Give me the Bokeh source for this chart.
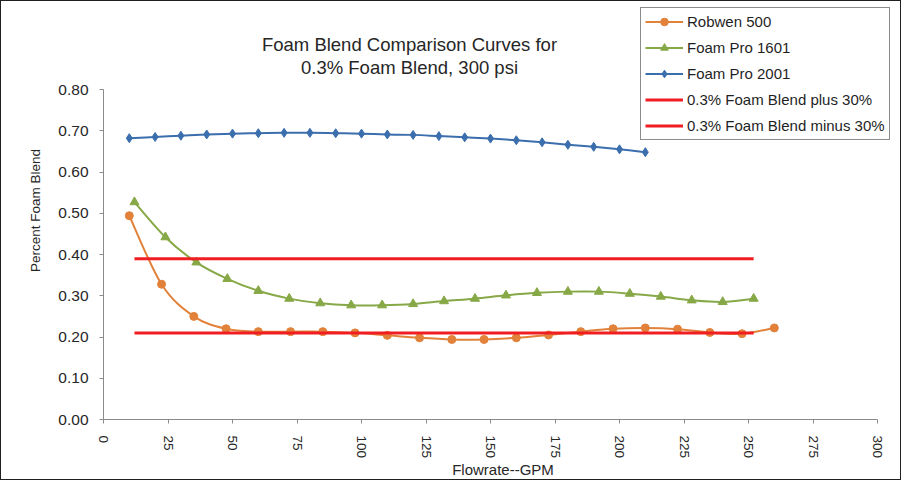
import numpy as np
from bokeh.plotting import figure
from bokeh.models import (ColumnDataSource, Range1d, FixedTicker, NumeralTickFormatter,
                          Legend, LegendItem, Label)
from bokeh.embed import file_html
from bokeh.resources import INLINE

# ---------------- data ----------------
robwen_x = [10, 22.5, 35, 47.5, 60, 72.5, 85, 97.5, 110, 122.5, 135, 147.5, 160,
            172.5, 185, 197.5, 210, 222.5, 235, 247.5, 260]
robwen_y = [0.494, 0.328, 0.250, 0.220, 0.213, 0.213, 0.213, 0.210, 0.204, 0.198, 0.194,
            0.194, 0.198, 0.205, 0.213, 0.220, 0.222, 0.219, 0.211, 0.208, 0.222]

fp1601_x = [12, 24, 36, 48, 60, 72, 84, 96, 108, 120, 132, 144, 156, 168, 180, 192,
            204, 216, 228, 240, 252]
fp1601_y = [0.527, 0.442, 0.381, 0.341, 0.312, 0.293, 0.282, 0.277, 0.277, 0.280, 0.287,
            0.293, 0.301, 0.307, 0.310, 0.310, 0.305, 0.298, 0.289, 0.285, 0.293]

fp2001_x = [10, 20, 30, 40, 50, 60, 70, 80, 90, 100, 110, 120, 130, 140, 150, 160,
            170, 180, 190, 200, 210]
fp2001_y = [0.682, 0.685, 0.688, 0.691, 0.693, 0.694, 0.695, 0.695, 0.694, 0.693, 0.691,
            0.690, 0.687, 0.684, 0.681, 0.677, 0.672, 0.666, 0.661, 0.655, 0.648]

band_x = [12, 252]
plus30_y = [0.39, 0.39]
minus30_y = [0.21, 0.21]

x_ticks = [0, 25, 50, 75, 100, 125, 150, 175, 200, 225, 250, 275, 300]
y_ticks = [0.0, 0.1, 0.2, 0.3, 0.4, 0.5, 0.6, 0.7, 0.8]
x_axis_span = (0, 300)
y_axis_span = (0, 0.8)

series_names = ["Robwen 500", "Foam Pro 1601", "Foam Pro 2001",
                "0.3% Foam Blend plus 30%", "0.3% Foam Blend minus 30%"]
title_lines = ["Foam Blend Comparison Curves for", "0.3% Foam Blend, 300 psi"]

ORANGE = "#E2823A"
GREEN = "#86A846"
BLUE = "#3B6EAD"
RED = "#F01E23"
FONT = "Liberation Sans"

# ---------------- layout (pixels) ----------------
W, H = 901, 480
FRAME_L, FRAME_B = 102, 62          # frame covers the rest of the canvas
AXIS_X_END_PX = 876                 # where x = 300 sits
AXIS_Y_TOP_PX = 88                  # where y = 0.80 sits
frame_w = W - FRAME_L
frame_h = H - FRAME_B
x_end = x_axis_span[1] * frame_w / (AXIS_X_END_PX - FRAME_L)
y_end = y_axis_span[1] * frame_h / (frame_h - AXIS_Y_TOP_PX)


def smooth_source(xs, ys, t=1.0 / 6.0):
    """Bezier control points (Excel-like smoothed line) through the data points."""
    x = np.asarray(xs, float)
    y = np.asarray(ys, float)
    n = len(x)
    i = np.arange(n - 1)
    i0 = np.maximum(i - 1, 0)
    i3 = np.minimum(i + 2, n - 1)
    return ColumnDataSource(dict(
        x0=x[i], y0=y[i], x1=x[i + 1], y1=y[i + 1],
        cx0=x[i] + (x[i + 1] - x[i0]) * t, cy0=y[i] + (y[i + 1] - y[i0]) * t,
        cx1=x[i + 1] - (x[i3] - x[i]) * t, cy1=y[i + 1] - (y[i3] - y[i]) * t,
    ))


p = figure(width=W, height=H, output_backend="svg", toolbar_location=None, title=None,
           x_range=Range1d(0, x_end), y_range=Range1d(0, y_end),
           min_border_left=FRAME_L, min_border_right=0, min_border_top=0,
           min_border_bottom=FRAME_B)
p.styles = {"border": "1.5px solid #1f1f1f"}
p.outline_line_color = None
p.xgrid.visible = False
p.ygrid.visible = False
p.background_fill_color = "white"
p.border_fill_color = "white"

# axes
for ax in (p.xaxis[0], p.yaxis[0]):
    ax.axis_line_color = "#8a8a8a"
    ax.major_tick_line_color = "#8a8a8a"
    ax.major_tick_in = 0
    ax.major_tick_out = 4
    ax.minor_tick_line_color = None
    ax.major_label_text_font = FONT
    ax.major_label_text_color = "#262626"
    ax.axis_label_text_font = FONT
    ax.axis_label_text_font_style = "normal"
    ax.axis_label_text_color = "#262626"

p.xaxis.ticker = FixedTicker(ticks=x_ticks)
p.xaxis.bounds = x_axis_span
p.xaxis.major_label_orientation = "vertical"
p.xaxis.major_label_text_font_size = "13.5px"
p.xaxis.major_label_standoff = 12
p.xaxis.axis_label = "Flowrate--GPM"
p.xaxis.axis_label_text_font_size = "15px"
p.xaxis.axis_label_standoff = 0

p.yaxis.ticker = FixedTicker(ticks=y_ticks)
p.yaxis.bounds = y_axis_span
p.yaxis.formatter = NumeralTickFormatter(format="0.00")
p.yaxis.major_label_text_font_size = "15.5px"
p.yaxis.major_label_standoff = 11
p.yaxis.axis_label = "Percent Foam Blend"
p.yaxis.axis_label_text_font_size = "13.5px"
p.yaxis.axis_label_standoff = 12

# series
r1l = p.bezier(source=smooth_source(robwen_x, robwen_y), x0="x0", y0="y0", x1="x1", y1="y1",
               cx0="cx0", cy0="cy0", cx1="cx1", cy1="cy1", line_color=ORANGE, line_width=2)
r1m = p.scatter(robwen_x, robwen_y, marker="circle", size=8, fill_color=ORANGE, line_color=ORANGE)

r2l = p.bezier(source=smooth_source(fp1601_x, fp1601_y), x0="x0", y0="y0", x1="x1", y1="y1",
               cx0="cx0", cy0="cy0", cx1="cx1", cy1="cy1", line_color=GREEN, line_width=2)
r2m = p.scatter(fp1601_x, fp1601_y, marker="triangle", size=9, fill_color=GREEN, line_color=GREEN)

r3l = p.bezier(source=smooth_source(fp2001_x, fp2001_y), x0="x0", y0="y0", x1="x1", y1="y1",
               cx0="cx0", cy0="cy0", cx1="cx1", cy1="cy1", line_color=BLUE, line_width=2)
r3m = p.scatter(fp2001_x, fp2001_y, marker="diamond", size=9,
                fill_color=BLUE, line_color=BLUE)

r4 = p.line(band_x, plus30_y, line_color=RED, line_width=3)
r5 = p.line(band_x, minus30_y, line_color=RED, line_width=3)

legend = Legend(items=[
    LegendItem(label=series_names[0], renderers=[r1l, r1m]),
    LegendItem(label=series_names[1], renderers=[r2l, r2m]),
    LegendItem(label=series_names[2], renderers=[r3l, r3m]),
    LegendItem(label=series_names[3], renderers=[r4]),
    LegendItem(label=series_names[4], renderers=[r5]),
], location=(537, 279))
legend.border_line_color = "#1a1a1a"
legend.border_line_width = 1.5
legend.background_fill_color = "white"
legend.background_fill_alpha = 1.0
legend.label_text_font = FONT
legend.label_text_font_size = "15px"
legend.label_text_color = "#1f1f1f"
legend.glyph_width = 38
legend.glyph_height = 19
legend.label_height = 19
legend.label_standoff = 4
legend.spacing = 7
legend.padding = 4
legend.margin = 0
p.add_layout(legend, "center")

# title (two centred lines)
for txt, ys in zip(title_lines, [375, 352]):
    p.add_layout(Label(x=306, y=ys, x_units="screen", y_units="screen", text=txt,
                       text_align="center", text_baseline="middle",
                       text_font=FONT, text_font_size="18.5px", text_color="#262626"))

open("out.html", "w").write(file_html(p, INLINE))
